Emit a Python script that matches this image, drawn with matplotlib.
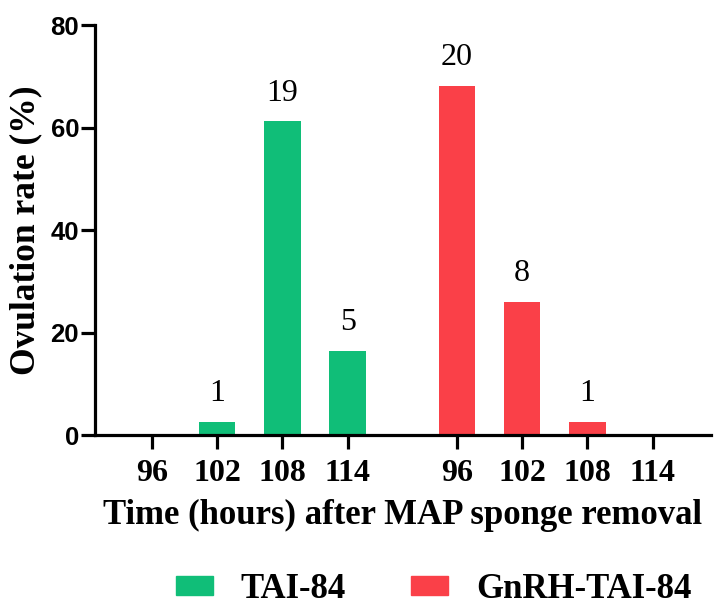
import numpy as np
import matplotlib
matplotlib.use("Agg")
import matplotlib.pyplot as plt
from matplotlib.patches import Patch

# ---- data ----
hours = ["96", "102", "108", "114"]
tai_rate = [0.0, 2.5, 61.2, 16.4]
tai_n = ["", "1", "19", "5"]
gnrh_rate = [68.2, 26.0, 2.5, 0.0]
gnrh_n = ["20", "8", "1", ""]
groups = ["TAI-84", "GnRH-TAI-84"]

GREEN = "#10BE78"
RED = "#FA4048"
SERIF = "Liberation Serif"
SANS = "Liberation Sans"

fig = plt.figure(figsize=(7.2, 6.14), dpi=100)
ax = fig.add_axes([0.132, 0.2915, 0.855, 0.6675])

x_tai = np.arange(len(hours))
x_gnrh = x_tai + 4.67
w = 0.56

b1 = ax.bar(x_tai, tai_rate, width=w, color=GREEN)
b2 = ax.bar(x_gnrh, gnrh_rate, width=w, color=RED)

for bars, labels in [(b1, tai_n), (b2, gnrh_n)]:
    for b, lab in zip(bars, labels):
        if not lab:
            continue
        ax.annotate(lab, (b.get_x() + b.get_width() / 2, b.get_height()),
                    xytext=(0, 10), textcoords="offset points",
                    ha="center", va="bottom", fontsize=23, family=SERIF)

ax.set_xlim(-0.868, 8.556)
ax.set_ylim(0, 80)
ax.set_yticks([0, 20, 40, 60, 80])
ax.set_xticks(np.concatenate([x_tai, x_gnrh]))
ax.set_xticklabels(hours + hours, fontsize=23, family=SERIF, fontweight="bold")
for t in ax.get_yticklabels():
    t.set_fontsize(18.5)
    t.set_family(SANS)
    t.set_fontweight("bold")

for s in ["top", "right"]:
    ax.spines[s].set_visible(False)
for s in ["left", "bottom"]:
    ax.spines[s].set_linewidth(2.3)
ax.tick_params(axis="y", length=10, width=2.3, pad=1.5)
ax.tick_params(axis="x", length=10, width=2.3, pad=7)

ax.set_xlabel("Time (hours) after MAP sponge removal", fontsize=25,
              family=SERIF, fontweight="bold", labelpad=8)
ax.set_ylabel("Ovulation rate (%)", fontsize=25.5, family=SERIF,
              fontweight="bold", labelpad=6)

handles = [Patch(color=GREEN), Patch(color=RED)]
fig.legend(handles, groups, loc="center", bbox_to_anchor=(0.602, 1 - 589 / 614),
           ncol=2, frameon=False, handlelength=1.07, handleheight=0.46,
           handletextpad=0.8, columnspacing=1.87,
           prop={"family": SERIF, "weight": "bold", "size": 25})

fig.savefig("out.png", dpi=100)
